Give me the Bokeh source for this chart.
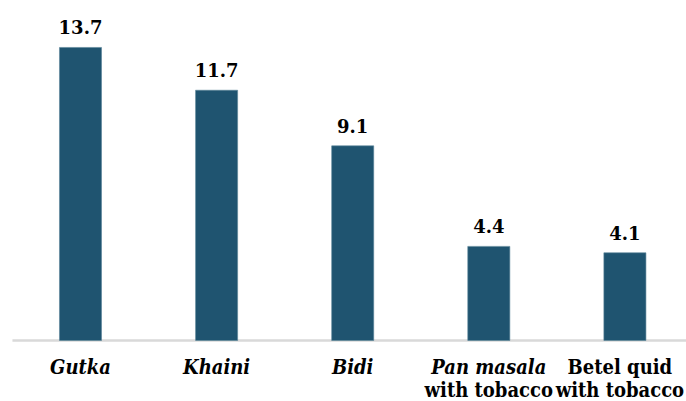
from bokeh.plotting import figure
from bokeh.models import ColumnDataSource, Range1d, CDSView, IndexFilter
from bokeh.core.properties import value
from bokeh.embed import file_html
from bokeh.resources import INLINE

categories = ["Gutka", "Khaini", "Bidi", "Pan masala with tobacco", "Betel quid with tobacco"]
values = [13.7, 11.7, 9.1, 4.4, 4.1]
label_line1 = ["Gutka", "Khaini", "Bidi", "Pan masala", "Betel quid"]
label_line1_style = ["bold italic", "bold italic", "bold italic", "bold italic", "bold"]
label_line2 = ["", "", "", "with tobacco", "with tobacco"]

BAR = "#1f5470"
PX_PER_UNIT = 21.39

xs = list(range(len(categories)))
src = ColumnDataSource(dict(
    x=xs,
    top=values,
    lab=[f"{v:.1f}" for v in values],
    ly=[v + 20 / PX_PER_UNIT for v in values],
    l1=label_line1,
    s1=label_line1_style,
    l2=label_line2,
))

p = figure(width=686, height=401, output_backend="svg", toolbar_location=None,
           x_axis_type=None, y_axis_type=None,
           x_range=Range1d(-0.5878, 4.4526), y_range=Range1d(-2.852, 15.895),
           min_border=0, min_border_left=0, min_border_right=0,
           min_border_top=0, min_border_bottom=0)
p.outline_line_color = None
p.grid.visible = False
p.background_fill_color = "white"
p.border_fill_color = "white"

# baseline axis line
p.segment(x0=[-0.5], y0=[0], x1=[4.6], y1=[0], line_color="#d9d9d9", line_width=2.5)

p.vbar(x="x", top="top", bottom=0, width=0.309, source=src,
       fill_color=BAR, line_color="#5b8499", line_width=0.6)

p.text(x="x", y="ly", text="lab", source=src, text_align="center",
       text_baseline="alphabetic", text_font=value("DejaVu Serif"),
       text_font_style="bold", text_font_size="18px", text_color="black")

n = len(categories)
main_view = CDSView(filter=IndexFilter(list(range(n - 1))))
last_view = CDSView(filter=IndexFilter([n - 1]))

for view, xoff in ((main_view, 0), (last_view, -5)):
    p.text(x="x", y=-26.5 / PX_PER_UNIT, text="l1", source=src, view=view,
           text_align="center", text_baseline="alphabetic", x_offset=xoff,
           text_font=value("DejaVu Serif Condensed"),
           text_font_style={"field": "s1"}, text_font_size="20px", text_color="black")
    p.text(x="x", y=-49.5 / PX_PER_UNIT, text="l2", source=src, view=view,
           text_align="center", text_baseline="alphabetic", x_offset=xoff,
           text_font=value("DejaVu Serif Condensed"),
           text_font_style="bold", text_font_size="20px", text_color="black")

open("out.html", "w").write(file_html(p, INLINE))
